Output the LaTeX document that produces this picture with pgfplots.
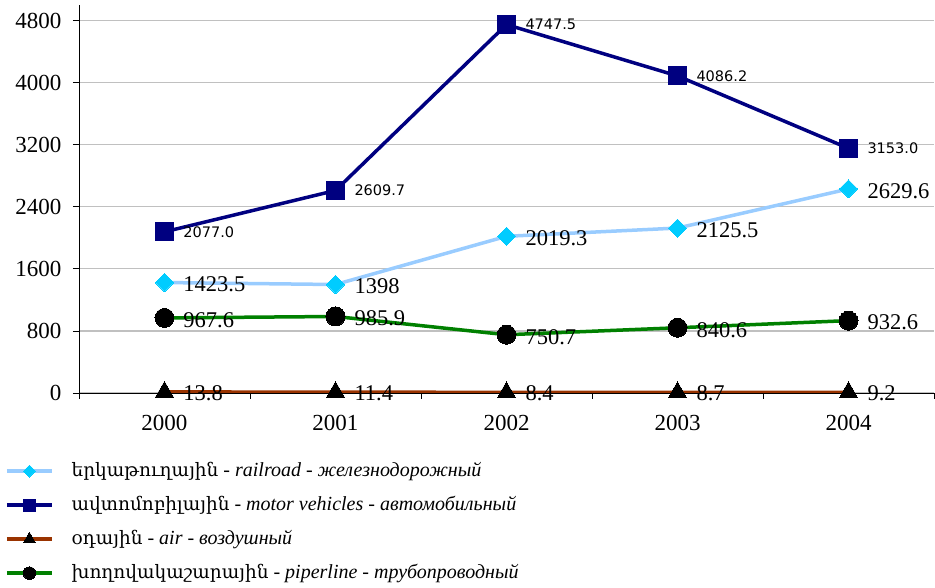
\documentclass[border=0pt]{standalone}
\usepackage{fontspec}
\setmainfont{Liberation Serif}
\newfontfamily\serifnum{Liberation Serif}
\newfontfamily\armfont{DejaVu Serif}
\newfontfamily\labsans{DejaVu Sans}
\usepackage{pgfplots}
\pgfplotsset{compat=1.18}
\definecolor{rail}{RGB}{153,204,255}
\definecolor{railm}{RGB}{0,204,255}
\definecolor{motor}{RGB}{0,0,128}
\definecolor{airc}{RGB}{153,51,0}
\definecolor{pipe}{RGB}{0,128,0}
\definecolor{gridc}{RGB}{192,192,192}
\newcommand{\arm}[1]{{\armfont\fontsize{18.5}{22}\selectfont #1}}
\newcommand{\itx}[1]{{\serifnum\itshape #1}}
\begin{document}
\begin{tikzpicture}
\useasboundingbox (-79pt,-195pt) rectangle (856pt,393pt);
\begin{axis}[
  at={(0pt,0pt)}, anchor=south west,
  scale only axis, width=855pt, height=388pt,
  xmin=-0.5, xmax=4.5, ymin=0, ymax=5000,
  xtick={0,1,2,3,4}, xticklabels={2000,2001,2002,2003,2004},
  minor xtick={-0.5,0.5,1.5,2.5,3.5,4.5},
  major x tick style={draw=none},
  ytick={0,800,1600,2400,3200,4000,4800},
  tick align=outside, major tick length=6pt, minor tick length=6pt,
  axis x line*=bottom, axis y line*=left,
  axis line style={black, line width=0.8pt, -},
  tick style={black, line width=0.8pt},
  ymajorgrids, grid style={gridc, line width=1.3pt},
  tick label style={font=\serifnum\fontsize{23}{26}\selectfont},
  xticklabel style={yshift=-13pt},
  yticklabel style={xshift=-8pt},
  /pgf/number format/assume math mode=true,
  /pgf/number format/1000 sep={},
  legend cell align=left,
  legend style={at={(axis description cs:-0.0866,-0.175)}, anchor=north west,
    draw=none, fill=none, inner sep=0pt, font=\serifnum\fontsize{20}{24}\selectfont,
    row sep=14pt, column sep=18pt,
    nodes={inner sep=0pt, text height=15pt, text depth=5pt}},
  legend image code/.code={
    \draw[mark repeat=2, mark phase=2, #1, every mark/.append style={scale=0.66}]
      plot coordinates {(0pt,0pt) (22.5pt,0pt) (45pt,0pt)};
  },
  every node near coord/.append style={anchor=west, xshift=19pt, inner sep=0pt, text=black},
]
\addplot[rail, line width=3.5pt, mark=square*, mark size=6.4pt,
  mark options={fill=railm, draw=railm, rotate=45, line width=0pt},
  nodes near coords, point meta=explicit symbolic,
  every node near coord/.append style={font=\serifnum\fontsize{22.5}{26}\selectfont, yshift=-2pt}]
  table[meta=l] {
x y l
0 1423.5 1423.5
1 1398 1398
2 2019.3 2019.3
3 2125.5 2125.5
4 2629.6 2629.6
};
\addlegendentry{\arm{երկաթուղային} - \itx{railroad} - \itx{железнодорожный}}
\addplot[motor, line width=3.5pt, mark=square*, mark size=9pt,
  mark options={fill=motor, draw=motor, line width=0pt},
  nodes near coords, point meta=explicit symbolic,
  every node near coord/.append style={font=\labsans\fontsize{14.5}{17}\selectfont, yshift=0pt}]
  table[meta=l] {
x y l
0 2077.0 2077.0
1 2609.7 2609.7
2 4747.5 4747.5
3 4086.2 4086.2
4 3153.0 3153.0
};
\addlegendentry{\arm{ավտոմոբիլային} - \itx{motor vehicles} - \itx{автомобильный}}
\addplot[airc, line width=3.5pt, mark=triangle*, mark size=10.4pt,
  mark options={fill=black, draw=black, line width=0pt},
  nodes near coords, point meta=explicit symbolic,
  every node near coord/.append style={font=\serifnum\fontsize{22.5}{26}\selectfont, yshift=-1pt}]
  table[meta=l] {
x y l
0 13.8 13.8
1 11.4 11.4
2 8.4 8.4
3 8.7 8.7
4 9.2 9.2
};
\addlegendentry{\arm{օդային} - \itx{air} - \itx{воздушный}}
\addplot[pipe, line width=3.5pt, mark=*, mark size=9.5pt,
  mark options={fill=black, draw=black, line width=0pt},
  nodes near coords, point meta=explicit symbolic,
  every node near coord/.append style={font=\serifnum\fontsize{22.5}{26}\selectfont, yshift=-2pt}]
  table[meta=l] {
x y l
0 967.6 967.6
1 985.9 985.9
2 750.7 750.7
3 840.6 840.6
4 932.6 932.6
};
\addlegendentry{\arm{խողովակաշարային} - \itx{piperline} - \itx{трубопроводный}}
\end{axis}
\end{tikzpicture}
\end{document}
